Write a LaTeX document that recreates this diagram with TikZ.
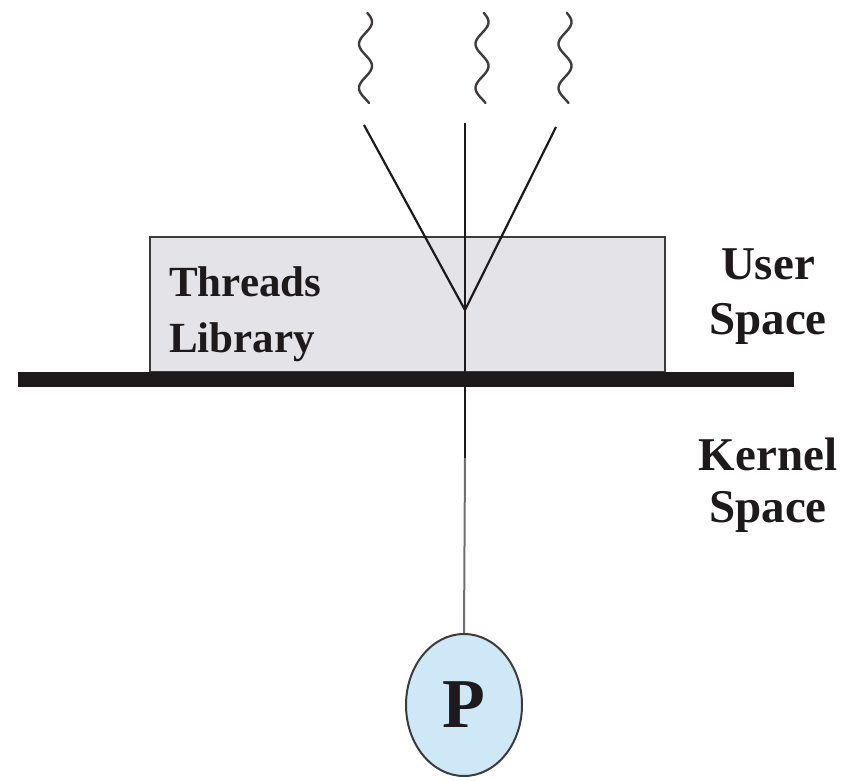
\documentclass[tikz,border=0pt]{standalone}
\usepackage{fontspec}
\setmainfont{Liberation Serif}
\usetikzlibrary{shapes.geometric}
\definecolor{boxfill}{RGB}{228,228,232}
\definecolor{boxedge}{RGB}{60,60,60}
\definecolor{pfill}{RGB}{206,232,247}
\definecolor{ink}{RGB}{30,26,28}
\definecolor{thinline}{RGB}{110,110,110}
\begin{document}
\begin{tikzpicture}[x=1pt,y=-1pt,
  thread/.style={draw=ink,line width=2.2pt},
  wavy/.style={draw=ink!85,line width=2.4pt,line cap=round},
  libtext/.style={font=\fontsize{43}{57}\selectfont\bfseries,text=ink,inner sep=0pt,anchor=base west},
  sidetext/.style={font=\fontsize{47}{57}\selectfont\bfseries,text=ink,inner sep=0pt,anchor=base},
  proc/.style={ellipse,draw=boxedge,line width=2pt,fill=pfill,minimum width=116pt,minimum height=142pt,inner sep=0pt,font=\fontsize{70}{80}\selectfont\bfseries,text=ink}]
\useasboundingbox (0,0) rectangle (857,781);
% squiggles
\draw[wavy] plot[domain=13:103,samples=80,smooth] ({365.5+6.5*sin(8.1818*(\x-11))},\x);
\draw[wavy] plot[domain=13:103,samples=80,smooth] ({482+6.5*sin(8.1818*(\x-11))},\x);
\draw[wavy] plot[domain=13:103,samples=80,smooth] ({565+6.5*sin(8.1818*(\x-11))},\x);
% library box
\node (lib) [draw=boxedge,line width=2pt,fill=boxfill,minimum width=515pt,minimum height=135pt,inner sep=0pt] at (407.5,304.5) {};
\node (t1) [libtext] at (169,296) {Threads};
\node (t2) [libtext] at (169,352) {Library};
% boundary bar
\node (bar) [fill=ink,minimum width=776pt,minimum height=15pt,inner sep=0pt] at (406,379.5) {};
% threads
\coordinate (tl) at (364,125);
\coordinate (tm) at (465,123);
\coordinate (tr) at (556,127);
\coordinate (apex) at (465,310);
\coordinate (mid) at (465,458);
\draw[thread] (tl) -- (apex) -- (tr);
\draw[thread] (tm) -- (apex) -- (mid);
% process
\node (P) [proc] at (464,705) {P};
\draw[draw=thinline,line width=2pt] (mid) -- (P.north);
% side labels
\node (u1) [sidetext] at (768,279) {User};
\node (u2) [sidetext] at (768,334) {Space};
\node (k1) [sidetext] at (768,470) {Kernel};
\node (k2) [sidetext] at (768,522) {Space};
\end{tikzpicture}
\end{document}
